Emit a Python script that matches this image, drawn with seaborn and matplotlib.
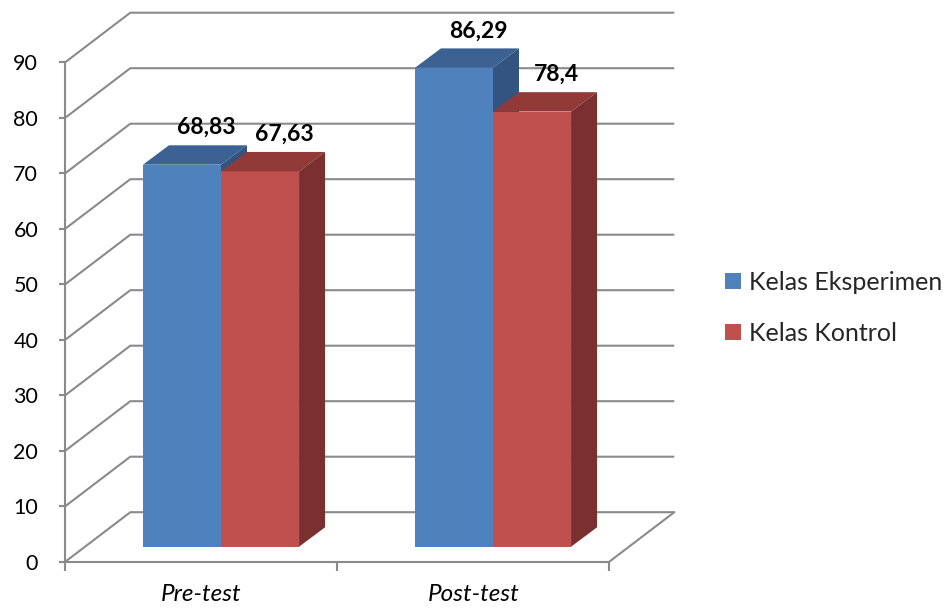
import matplotlib
matplotlib.use("Agg")
import matplotlib.pyplot as plt
import seaborn as sns
import pandas as pd
from matplotlib.patches import Polygon

# ---- data -------------------------------------------------------------
tests = ["Pre-test", "Post-test"]
groups = ["Kelas Eksperimen", "Kelas Kontrol"]
eksperimen = [68.83, 86.29]
kontrol = [67.63, 78.4]
y_ticks = [0, 10, 20, 30, 40, 50, 60, 70, 80, 90]

front_colors = ["#4F81BD", "#C0504D"]
top_colors = ["#3B6292", "#913A38"]
side_colors = ["#33547F", "#7A302F"]
grid_color = "#8A8A8A"

df = pd.DataFrame({
    "test": tests * 2,
    "kelas": [groups[0]] * 2 + [groups[1]] * 2,
    "nilai": eksperimen + kontrol,
})

# ---- style ------------------------------------------------------------
sns.set_style("white")
plt.rcParams["font.family"] = ["Lato", "DejaVu Sans"]

W_PX, H_PX = 948, 609
fig = plt.figure(figsize=(W_PX / 100, H_PX / 100), dpi=100)
ax = fig.add_axes([0, 0, 1, 1])

# pixel scale of the plotting plane (category unit / value unit)
PX_X, PX_Y = 272.0, 5.55
X0_PX, Y0_PX = 221.0, 546.7          # first category centre, bar base (from top)

# pseudo-3D offsets, expressed in data units
DX_BAR, DY_BAR = 26 / PX_X, 19.4 / PX_Y      # bar depth
FX, FY = -19.7 / PX_X, -15 / PX_Y           # front axis plane vs bar plane
WX, WY = 65 / PX_X, 49.5 / PX_Y             # depth of the walls

sns.barplot(data=df, x="test", y="nilai", hue="kelas", palette=front_colors,
            saturation=1, width=0.574, gap=0, linewidth=0, ax=ax, legend=True)

# ---- walls and gridlines -----------------------------------------------
x_left, x_right = -0.5 + FX, len(tests) - 0.5 + FX
for v in y_ticks:
    ax.plot([x_left, x_left + WX, x_right + WX],
            [v + FY, v + FY + WY, v + FY + WY],
            color=grid_color, lw=1.5, zorder=0.5, solid_capstyle="butt")
ax.plot([x_right, x_right + WX], [FY, FY + WY], color=grid_color, lw=1.5, zorder=0.5)

# ---- 3D faces of bars --------------------------------------------------
for h, cont in enumerate(ax.containers):
    for rect in cont:
        rect.set_zorder(2 + h)
        x0, w, hv = rect.get_x(), rect.get_width(), rect.get_height()
        top = Polygon([(x0, hv), (x0 + w, hv), (x0 + w + DX_BAR, hv + DY_BAR),
                       (x0 + DX_BAR, hv + DY_BAR)], closed=True,
                      facecolor=top_colors[h], edgecolor="none", zorder=2 + h)
        side = Polygon([(x0 + w, 0), (x0 + w, hv), (x0 + w + DX_BAR, hv + DY_BAR),
                        (x0 + w + DX_BAR, DY_BAR)], closed=True,
                       facecolor=side_colors[h], edgecolor="none", zorder=2 + h)
        ax.add_patch(top)
        ax.add_patch(side)
        ax.annotate(f"{hv:g}".replace(".", ","),
                    (x0 + w / 2 + 0.088, hv + DY_BAR),
                    xytext=(0, 8), textcoords="offset points",
                    ha="center", va="baseline", fontsize=16.5,
                    fontweight="bold", color="black", zorder=10)

# ---- axes ------------------------------------------------------------
ax.set_xlim(-X0_PX / PX_X, (W_PX - X0_PX) / PX_X)
ax.set_ylim(-(H_PX - Y0_PX) / PX_Y, Y0_PX / PX_Y)

for s in ["top", "right"]:
    ax.spines[s].set_visible(False)
for s in ["left", "bottom"]:
    ax.spines[s].set_color(grid_color)
    ax.spines[s].set_linewidth(1.5)
ax.spines["left"].set_position(("data", x_left))
ax.spines["left"].set_bounds(y_ticks[0] + FY, y_ticks[-1] + FY)
ax.spines["bottom"].set_position(("data", FY))
ax.spines["bottom"].set_bounds(x_left, x_right)

ax.set_yticks([v + FY for v in y_ticks])
ax.set_yticklabels([str(v) for v in y_ticks])
ax.tick_params(axis="y", length=4.5, width=1.5, color=grid_color, pad=15,
               labelsize=15.5, labelcolor="black", left=True)

ax.set_xticks([i + FX for i in range(len(tests))])
ax.set_xticklabels(tests, fontstyle="italic")
ax.set_xticks([x_left, (x_left + x_right) / 2, x_right], minor=True)
ax.tick_params(axis="x", which="major", length=0, pad=16, labelsize=17.5,
               labelcolor="black")
ax.tick_params(axis="x", which="minor", length=6.5, width=1.5,
               color=grid_color, bottom=True)
ax.set_xlabel("")
ax.set_ylabel("")

sns.move_legend(ax, loc="upper left",
                bbox_to_anchor=(725 / W_PX, 1 - 271 / H_PX),
                bbox_transform=fig.transFigure, title=None, frameon=False,
                fontsize=18, handlelength=0.64, handleheight=0.64,
                handletextpad=0.32, labelspacing=1.12, borderpad=0,
                borderaxespad=0)

fig.savefig("out.png", dpi=100, facecolor="white")
